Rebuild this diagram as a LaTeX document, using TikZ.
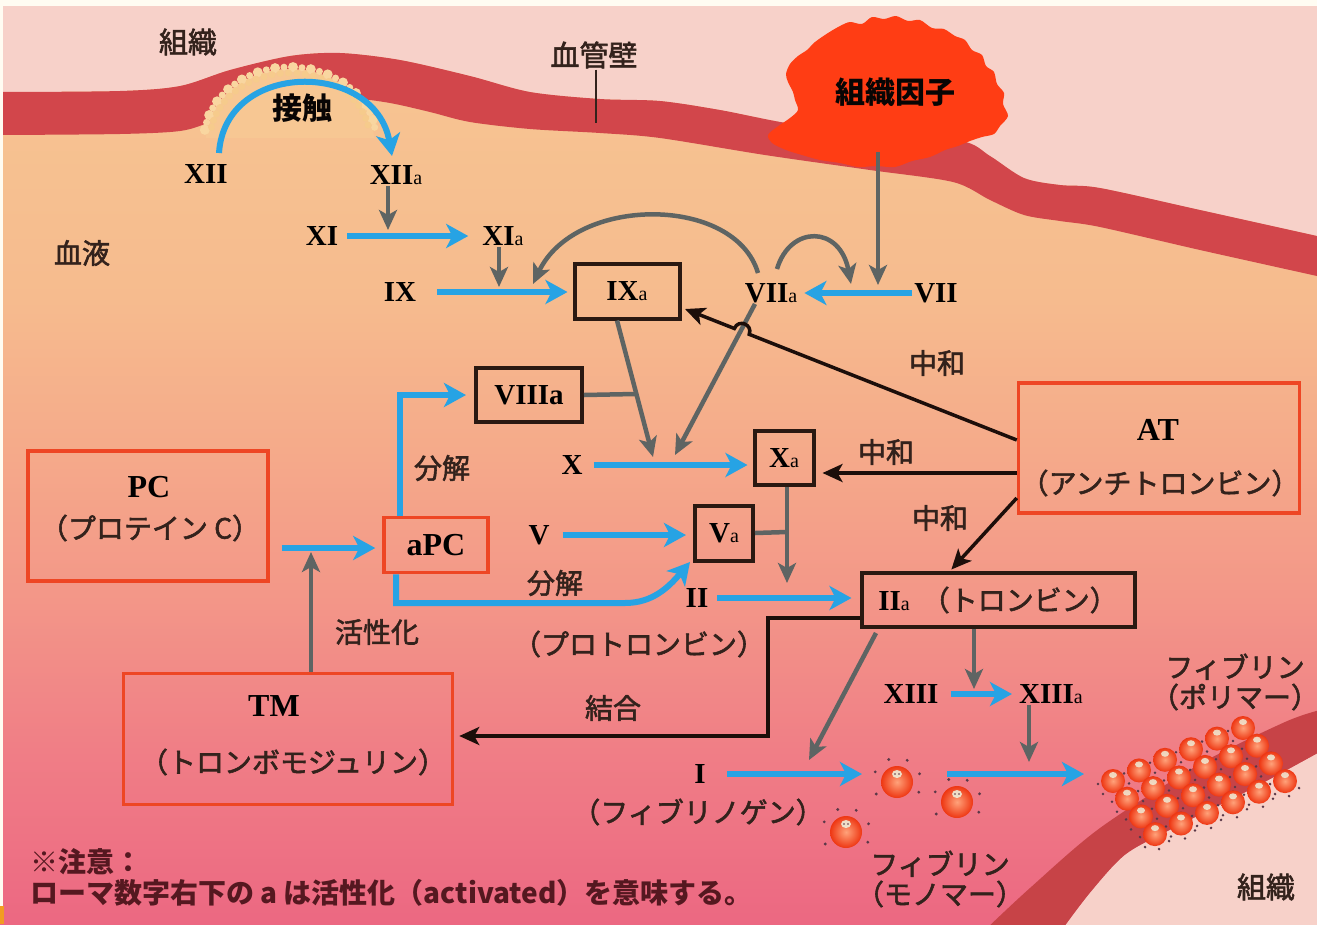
\documentclass[tikz,border=0pt]{standalone}
\usepackage{fontspec}
\setmainfont{Liberation Serif}
\newfontfamily\jp[FakeBold=2]{Noto Sans CJK JP}
\newfontfamily\jpb{Noto Sans CJK JP}
\usetikzlibrary{arrows.meta}

\definecolor{strip}{HTML}{FFFCF2}
\definecolor{tissue}{HTML}{F7D1C9}
\definecolor{wallred}{HTML}{D2464B}
\definecolor{blobc}{HTML}{FF3D14}
\definecolor{cream}{HTML}{F9D6A0}
\definecolor{creamdk}{HTML}{F6CB8C}
\definecolor{bA}{HTML}{F7C793}
\definecolor{bB}{HTML}{F6BB8E}
\definecolor{bC}{HTML}{F5AA8A}
\definecolor{bD}{HTML}{F39688}
\definecolor{bE}{HTML}{F07E86}
\definecolor{bF}{HTML}{EC6882}
\definecolor{ink}{HTML}{33221C}
\definecolor{boxc}{HTML}{2A1912}
\definecolor{redc}{HTML}{EE4624}
\definecolor{bluec}{HTML}{27A3E4}
\definecolor{grayc}{HTML}{5E6463}
\definecolor{blkc}{HTML}{1C0E0A}
\definecolor{notec}{HTML}{551820}
\definecolor{fib}{HTML}{EE3612}
\definecolor{fibhl}{HTML}{FFA27A}
\definecolor{face}{HTML}{EEF4E0}
\definecolor{speck}{HTML}{5A3848}
\definecolor{cornerc}{HTML}{F29C22}

% small "a" of the activated factors
\newcommand\sa{{\fontsize{20}{20}\selectfont\mdseries a}}

\begin{document}
\begin{tikzpicture}[x=1pt,y=-1pt,
  rn/.style={font=\fontsize{29}{30}\selectfont\bfseries, text=black, inner sep=1pt},
  big/.style={font=\fontsize{32}{34}\selectfont\bfseries, text=black, inner sep=1pt},
  jl/.style={font=\jp\fontsize{28}{31}\selectfont, text=ink, inner sep=1pt, align=center},
  jb/.style={font=\jpb\bfseries\fontsize{30}{32}\selectfont, text=black!85!ink, inner sep=1pt},
  bbox/.style={rn, draw=boxc, line width=4pt, inner sep=0pt},
  rbox/.style={draw=redc, line width=3.5pt, inner sep=0pt},
  bluearr/.style={draw=bluec, line width=6pt, -{Stealth[length=22pt,width=24pt,inset=6pt]}},
  grayarr/.style={draw=grayc, line width=4.5pt, -{Stealth[length=20pt,width=18pt,inset=5pt]}},
  grayline/.style={draw=grayc, line width=4.5pt},
  blkarr/.style={draw=blkc, line width=3.5pt, -{Stealth[length=20pt,width=18pt,inset=5pt]}},
  note/.style={font=\jpb\bfseries\fontsize{28}{30}\selectfont, text=notec, inner sep=0pt, anchor=west},
  fball/.style={inner color=fibhl, outer color=fib},
]
\useasboundingbox (0,0) rectangle (1317,924);

% ---------- blood (vertical gradient) ----------
\shade[top color=bA, bottom color=bB] (0,0) rectangle (1317,301);
\shade[top color=bB, bottom color=bC] (0,300) rectangle (1317,451);
\shade[top color=bC, bottom color=bD] (0,450) rectangle (1317,601);
\shade[top color=bD, bottom color=bE] (0,600) rectangle (1317,751);
\shade[top color=bE, bottom color=bF] (0,750) rectangle (1317,924);

% ---------- tissue above the vessel ----------
\fill[tissue] (0,6) -- (0,92) -- plot[smooth] coordinates {(0,92) (120,91) (180,86) (230,70) (290,56) (340,53) (400,60) (470,76) (530,92) (600,99) (660,101) (720,110) (786,123) (870,135) (961,141) (990,156) (1024,178) (1060,185) (1100,188) (1200,210) (1317,236)} -- (1317,6) -- cycle;

% ---------- vessel wall ----------
\fill[wallred] plot[smooth] coordinates {(0,92) (120,91) (180,86) (230,70) (290,56) (340,53) (400,60) (470,76) (530,92) (600,99) (660,101) (720,110) (786,123) (870,135) (961,141) (990,156) (1024,178) (1060,185) (1100,188) (1200,210) (1317,236)}
  -- plot[smooth] coordinates {(1317,276) (1200,250) (1100,227) (1060,221) (1024,215) (990,200) (953,182) (870,170) (765,155) (660,138) (600,133) (530,129) (470,122) (430,112) (390,103) (350,98) (300,98) (250,105) (210,122) (180,131) (120,134) (0,135)} -- cycle;

% ---------- exposed surface where contact activation starts ----------
\begin{scope}
  \clip (0,0) rectangle (1317,137);
  \fill[bA] (290,140) ellipse [x radius=84, y radius=71];
\end{scope}
\foreach \ang/\r in {172/5,166/3.5,160/5,154/3.5,148/5,142/3.5,136/5,130/3.5,124/5,118/3.5,112/5,106/3.5,100/5,94/3.5,88/5,82/3.5,76/5,70/3.5,64/5,58/3.5,52/5,46/3.5,40/5,34/3.5,28/5,22/3.5,16/5,10/3.5}
  \fill[cream] ({290+86*cos(\ang)},{140-73*sin(\ang)}) circle (\r);
\foreach \ang in {169,163,...,12}
  \fill[creamdk] ({290+80*cos(\ang)},{140-67*sin(\ang)}) circle (3.5);

% ---------- tissue factor ----------
\fill[blobc] plot[smooth cycle, tension=0.5] coordinates {(828,33) (840,26) (850,22) (862,24) (872,17) (884,19) (896,16) (908,21) (920,20) (932,28) (944,29) (955,36) (965,40) (972,50) (982,55) (986,66) (994,72) (997,84) (1004,93) (1003,104) (1008,116) (1000,126) (994,134) (982,137) (970,141) (958,146) (945,150) (930,157) (912,161) (895,167) (876,166) (858,167) (840,163) (820,160) (802,155) (786,150) (772,143) (768,135) (777,127) (790,118) (798,110) (795,100) (793,92) (788,82) (786,74) (790,64) (798,56) (807,50) (815,42)};

% ---------- vessel wall and tissue, lower right ----------
\fill[wallred!95!black] plot[smooth] coordinates {(985,930) (1030,888) (1100,828) (1200,764) (1285,722) (1320,710)}
  -- plot[smooth] coordinates {(1320,752) (1250,790) (1170,830) (1125,855) (1090,893) (1062,930)} -- cycle;
\fill[tissue] plot[smooth] coordinates {(1062,930) (1090,893) (1125,855) (1170,830) (1250,790) (1320,752)} -- (1320,930) -- cycle;

% ---------- frame strips ----------
\fill[strip] (0,0) rectangle (1317,6);
\fill[strip] (0,0) rectangle (3,906);
\fill[cornerc] (0,906) rectangle (4,924);

% ---------- place labels ----------
\node[jl, font=\jp\fontsize{29}{31}\selectfont] (tisA) at (188,42) {組織};
\node[jl, font=\jp\fontsize{29}{31}\selectfont] (wall) at (594,55) {血管壁};
\node[jb] (tf) at (895,92) {組織因子};
\node[jb] (contact) at (302,108) {接触};
\node[jl] (blood) at (82,253) {血液};
\node[jl, font=\jp\fontsize{29}{31}\selectfont] (tisB) at (1266,887) {組織};

\node[rn] (XII) at (206,174) {XII};
\node[rn] (XIIa) at (396,175) {XII\sa};
\node[rn] (XI) at (322,236) {XI};
\node[rn] (XIa) at (503,236) {XI\sa};
\node[rn] (IX) at (400,292) {IX};
\node[bbox, minimum width=105, minimum height=55] (IXa) at (627,291) {IX\sa};
\node[rn] (VIIa) at (771,293) {VII\sa};
\node[rn] (VII) at (936,293) {VII};
\node[bbox, minimum width=106, minimum height=54] (VIIIa) at (529,395) {VIIIa};
\node[rn] (X) at (572,465) {X};
\node[bbox, minimum width=59, minimum height=54] (Xa) at (784,458) {X\sa};
\node[rn] (V) at (539,535) {V};
\node[bbox, minimum width=58, minimum height=55] (Va) at (724,533) {V\sa};
\node[rbox, big, inner sep=0pt, minimum width=104, minimum height=55] (aPC) at (436,545) {aPC};
\node[rn] (II) at (697,598) {II};
\node[jl] (IIj) at (639,644) {（プロトロンビン）};
\node[bbox, minimum width=273, minimum height=54] (IIa) at (998,600) {II\sa\hspace{12pt}{\jp\mdseries\color{ink}\fontsize{28}{30}\selectfont（トロンビン）}};
\node[rn] (XIII) at (911,694) {XIII};
\node[rn] (XIIIa) at (1051,694) {XIII\sa};
\node[rn] (I) at (700,774) {I};
\node[jl] (Ij) at (698,812) {（フィブリノゲン）};

\node[rbox, minimum width=240, minimum height=130] (PC) at (148,516) {};
\node[big] (PCt) at (149,487) {PC};
\node[jl] (PCj) at (150,528) {（プロテイン C）};
\node[rbox, minimum width=281, minimum height=130] (AT) at (1159,448) {};
\node[big] (ATt) at (1158,430) {AT};
\node[jl] (ATj) at (1160,483) {（アンチトロンビン）};
\node[rbox, minimum width=329, minimum height=131] (TM) at (288,739) {};
\node[big] (TMt) at (274,706) {TM};
\node[jl] (TMj) at (293,762) {（トロンボモジュリン）};

\node[jl] (n1) at (937,363) {中和};
\node[jl] (n2) at (886,452) {中和};
\node[jl] (n3) at (940,518) {中和};
\node[jl] (d1) at (442,468) {分解};
\node[jl] (d2) at (555,583) {分解};
\node[jl] (act) at (377,632) {活性化};
\node[jl] (bind) at (613,708) {結合};
\node[jl, font=\jp\fontsize{28}{30}\selectfont] (mono) at (940,879) {フィブリン\\（モノマー）};
\node[jl, font=\jp\fontsize{28}{30}\selectfont] (poly) at (1235,682) {フィブリン\\（ポリマー）};

\node[note] (nt1) at (30,862) {※注意：};
\node[note] (nt2) at (30,893) {ローマ数字右下の a は活性化（activated）を意味する。};

% ---------- junction points on the reaction arrows ----------
\coordinate (wallend) at (596,123);
\coordinate (ca) at (219,153);
\coordinate (cb) at (392,156);
\coordinate (jg1) at (388,230);
\coordinate (jg2) at (499,287);
\coordinate (ga) at (758,273);
\coordinate (gb) at (533,284);
\coordinate (gc) at (777,269);
\coordinate (gd) at (851,284);
\coordinate (tfa) at (878,152);
\coordinate (tfb) at (878,285);
\coordinate (g6b) at (653,457);
\coordinate (g7b) at (675,455);
\coordinate (jb1) at (635,394);
\coordinate (jg8) at (787,583);
\coordinate (jb2) at (787,532);
\coordinate (b7s) at ([xshift=-40pt]aPC.south);
\coordinate (b7a) at (625,603);
\coordinate (b7e) at (690,562);
\coordinate (jpc) at (311,548);
\coordinate (hr) at (749.2,334.3);
\coordinate (hc1) at (753.1,324.4);
\coordinate (hc2) at (738.3,318.6);
\coordinate (hl) at (734.4,328.5);
\coordinate (ke) at (685,309);
\coordinate (atx) at ([yshift=-25pt]AT.west);
\coordinate (kt2) at (768,736);
\coordinate (g10b) at (809,760);
\coordinate (jg11) at (974,689);
\coordinate (jg12) at (1029,762);
\coordinate (b11e) at (862,774);
\coordinate (b12s) at (947,774);
\coordinate (b12e) at (1084,774);

% ---------- connectors ----------
\draw[ink, line width=2pt] (wall.south -| wallend) -- (wallend);

% gray: catalytic actions
\draw[grayarr] (XIIa.south -| jg1) -- (jg1);
\draw[grayarr] (XIa.south -| jg2) -- (jg2);
\draw[grayarr] (ga) .. controls (735,195) and (575,195) .. (gb);
\draw[grayarr] (gc) .. controls (790,225) and (840,225) .. (gd);
\draw[grayarr] (tfa) -- (tfb);
\draw[grayarr] ([xshift=-10pt]IXa.south) -- (g6b);
\draw[grayarr] ([xshift=-16pt]VIIa.south) -- (g7b);
\draw[grayline] (VIIIa.east) -- (jb1);
\draw[grayarr] ([xshift=3pt]Xa.south) -- (jg8);
\draw[grayline] (Va.east) -- (jb2);
\draw[grayarr] (TM.north -| jpc) -- ([yshift=-4pt]jpc);
\draw[grayarr] ([xshift=-122pt,yshift=-4pt]IIa.south) -- (g10b);
\draw[grayarr] ([xshift=-24pt]IIa.south) -- (jg11);
\draw[grayarr] (XIIIa.south -| jg12) -- (jg12);

% blue: conversions
\draw[bluearr] (ca) .. controls (225,60) and (375,60) .. (cb);
\draw[bluearr, shorten <=8pt, shorten >=13pt] (XI.east) -- (XIa.west);
\draw[bluearr, shorten <=20pt, shorten >=5pt] (IX.east) -- (IXa.west |- IX.east);
\draw[bluearr, shorten <=1pt, shorten >=6pt] (VII.west) -- (VIIa.east);
\draw[bluearr, shorten <=10pt, shorten >=5pt] (X.east) -- (Xa.west |- X.east);
\draw[bluearr, shorten <=12pt, shorten >=7pt] (V.east) -- (Va.west |- V.east);
\draw[bluearr, shorten >=8pt] ([xshift=-36pt]aPC.north) |- (VIIIa.west);
\draw[bluearr] (b7s) |- (b7a) .. controls (652,603) and (668,588) .. (b7e);
\draw[bluearr, shorten <=12pt, shorten >=7pt] (PC.east |- jpc) -- (aPC.west |- jpc);
\draw[bluearr, shorten <=8pt, shorten >=8pt] (II.east) -- (IIa.west |- II.east);
\draw[bluearr, shorten <=11pt, shorten >=6pt] (XIII.east) -- (XIIIa.west);
\draw[bluearr, shorten <=20pt] (I.east) -- (b11e);
\draw[bluearr] (b12s) -- (b12e);

% black: neutralisation by AT, binding to TM
\draw[blkarr] ([yshift=8pt]AT.west) -- (hr) .. controls (hc1) and (hc2) .. (hl) -- (ke);
\draw[blkarr, shorten >=7pt] (atx) -- (atx -| Xa.east);
\draw[blkarr, shorten >=2pt] ([yshift=-50pt]AT.west) -- ([xshift=-48pt]IIa.north);
\draw[blkarr, shorten >=5pt] ([yshift=-18pt]IIa.west) -| (kt2) -- (kt2 -| TM.east);

% ---------- fibrin monomers ----------
\foreach \bx/\by in {897/782, 957/802, 846/832} {
  \foreach \ang in {150,205,250,295,340,25}
    \fill[speck] ({\bx+24*cos(\ang)},{\by+24*sin(\ang)}) circle (1.6);
  \shade[fball] (\bx,\by) circle (16);
  \fill[face, opacity=0.85] (\bx,\by-8) ellipse [x radius=5, y radius=4];
  \fill[speck] (\bx-2,\by-8) circle (0.9) (\bx+2,\by-8) circle (0.9);
}

% ---------- fibrin polymer ----------
\foreach \i in {0,...,5} {
  \foreach \j in {0,...,3} {
    \pgfmathsetmacro\px{1113+26*\i+14*\j}
    \pgfmathsetmacro\py{781-10.6*\i+17.7*\j}
    \foreach \dx/\dy in {-15/3, -10/13, 4/15, 14/7}
      \fill[speck] ({\px+\dx},{\py+\dy}) circle (1.4);
    \shade[fball] (\px,\py) circle (12);
    \fill[face, opacity=0.8] (\px,\py-6) ellipse [x radius=4, y radius=3];
  }
}
\end{tikzpicture}
\end{document}
